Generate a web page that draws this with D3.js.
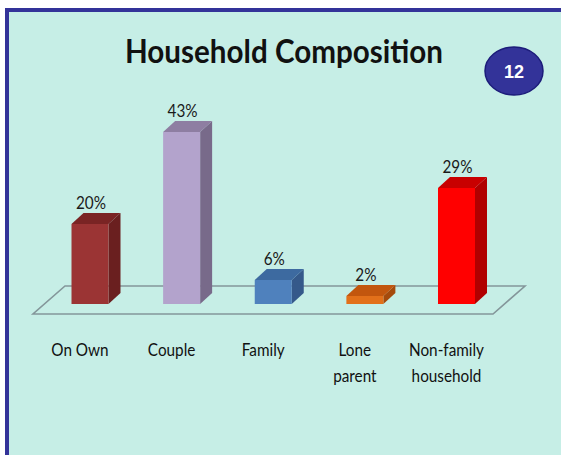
<!DOCTYPE html>
<html>
<head>
<meta charset="utf-8">
<script src="https://cdn.jsdelivr.net/npm/d3@7"></script>
<style>
  html, body { margin: 0; padding: 0; background: #ffffff; }
  svg { display: block; }
</style>
</head>
<body>
<script>
// Household composition shares (%)
const categories = ["On Own", "Couple", "Family", "Lone\nparent", "Non-family\nhousehold"];
const values = [20, 43, 6, 2, 29];
const frontColors = ["#9b3434", "#b3a3cc", "#4f81bd", "#e2701a", "#ff0000"];
const topColors   = ["#7a2424", "#8e7ea2", "#3d6aa0", "#c2560e", "#c80000"];
const sideColors  = ["#6a1f1f", "#786a8a", "#35598a", "#a54a0c", "#b00000"];
const title = "Household Composition";
const badge = "12";

const W = 561, H = 455;
const svg = d3.select("body").append("svg").attr("width", W).attr("height", H);

// panel with blue frame on top and left
svg.append("rect").attr("x", 5).attr("y", 8).attr("width", W - 5).attr("height", H - 8).attr("fill", "#333399");
svg.append("rect").attr("x", 9).attr("y", 12).attr("width", W - 9).attr("height", H - 12).attr("fill", "#c6eee6");

// title
svg.append("text")
  .attr("x", 284).attr("y", 63)
  .attr("text-anchor", "middle")
  .attr("font-family", "Lato, 'Open Sans', sans-serif")
  .attr("font-weight", "bold")
  .attr("font-size", 32)
  .attr("textLength", 318).attr("lengthAdjust", "spacingAndGlyphs")
  .attr("fill", "#111")
  .text(title);

// page badge
svg.append("ellipse").attr("cx", 514).attr("cy", 71).attr("rx", 29).attr("ry", 24)
  .attr("fill", "#333399").attr("stroke", "#1c1c7a").attr("stroke-width", 1.5);
svg.append("text").attr("x", 514).attr("y", 77.5).attr("text-anchor", "middle")
  .attr("font-family", "'Liberation Sans', Arial, sans-serif").attr("font-weight", "bold")
  .attr("font-size", 18).attr("fill", "#ffffff").text(badge);

// scales
const x = d3.scalePoint().domain(categories).range([90, 456.5]);
const y = d3.scaleLinear().domain([0, 43]).range([304, 132]);
const barW = 37, dx = 12, dy = -11;

// floor (3D plane)
const floor = [[65, 286], [525, 286], [493, 314], [33, 314]];
svg.append("path")
  .attr("d", "M" + floor.map(p => p.join(",")).join("L") + "Z")
  .attr("fill", "none").attr("stroke", "#84969a").attr("stroke-width", 1.6);

const labelFont = "Lato, 'Open Sans', sans-serif";

const g = svg.append("g");
categories.forEach((c, i) => {
  const x0 = x(c) - barW / 2, x1 = x(c) + barW / 2;
  const yt = y(values[i]), yb = y(0);
  const bar = g.append("g");
  // side face
  bar.append("path")
    .attr("d", `M${x1},${yb}L${x1 + dx},${yb + dy}L${x1 + dx},${yt + dy}L${x1},${yt}Z`)
    .attr("fill", sideColors[i]);
  // top face
  bar.append("path")
    .attr("d", `M${x0},${yt}L${x0 + dx},${yt + dy}L${x1 + dx},${yt + dy}L${x1},${yt}Z`)
    .attr("fill", topColors[i]);
  // front face
  bar.append("rect")
    .attr("x", x0).attr("y", yt).attr("width", barW).attr("height", yb - yt)
    .attr("fill", frontColors[i]);
  // value label
  bar.append("text")
    .attr("x", x(c) + 1).attr("y", yt + dy - 4)
    .attr("text-anchor", "middle")
    .attr("font-family", labelFont)
    .attr("font-size", 17).attr("fill", "#1a1a1a")
    .attr("transform", `translate(${x(c) + 1},0) scale(0.9,1) translate(${-(x(c) + 1)},0)`)
    .text(values[i] + "%");
});

// category labels
categories.forEach(c => {
  const cx = x(c) - 10;
  const t = svg.append("text")
    .attr("text-anchor", "middle")
    .attr("font-family", labelFont)
    .attr("font-size", 17).attr("fill", "#111")
    .attr("transform", `translate(${cx},0) scale(0.9,1) translate(${-cx},0)`);
  c.split("\n").forEach((line, k) => {
    t.append("tspan").attr("x", cx).attr("y", 356 + k * 26).text(line);
  });
});
</script>
</body>
</html>
